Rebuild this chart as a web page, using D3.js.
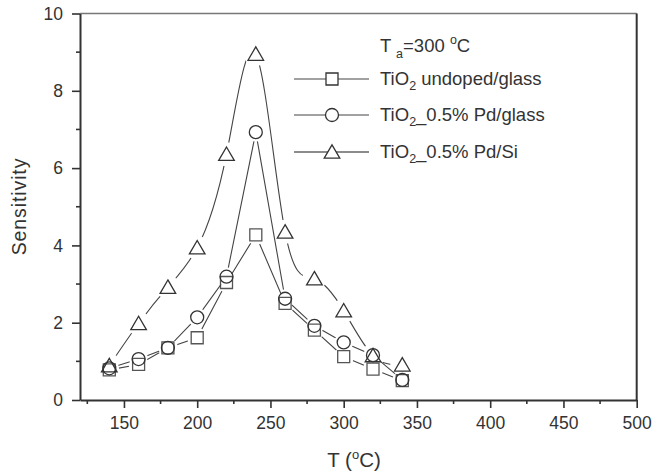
<!DOCTYPE html>
<html>
<head>
<meta charset="utf-8">
<script src="https://cdn.jsdelivr.net/npm/d3@7"></script>
<style>
  body { margin: 0; background: #fff; }
  svg { font-family: "Liberation Sans", Arial, sans-serif; }
</style>
</head>
<body>
<div class="canvas"></div>
<script>
// data
const temps = [140, 160, 180, 200, 220, 240, 260, 280, 300, 320, 340]
const undopedGlass = [0.78, 0.92, 1.35, 1.61, 3.04, 4.27, 2.50, 1.81, 1.12, 0.80, 0.50]
const pdGlass = [0.82, 1.06, 1.35, 2.14, 3.19, 6.93, 2.62, 1.92, 1.49, 1.16, 0.52]
const pdSi = [0.89, 1.98, 2.92, 3.94, 6.36, 8.95, 4.35, 3.14, 2.31, 1.15, 0.91]

const xMajor = [150, 200, 250, 300, 350, 400, 450, 500]
const xMinor = [125, 175, 225, 275, 325, 375, 425, 475]
const yMajor = [0, 2, 4, 6, 8, 10]
const yMinor = [1, 3, 5, 7, 9]

const dims = { width: 666, height: 475 }
const plot = { left: 80, right: 636.7, top: 13.5, bottom: 400 }

const svg = d3.select('.canvas')
              .append('svg')
              .attr('width', dims.width)
              .attr('height', dims.height)

const x = d3.scaleLinear().domain([120, 500]).range([plot.left, plot.right])
const y = d3.scaleLinear().domain([0, 10]).range([plot.bottom, plot.top])

const ink = '#333'

// frame: top and right
svg.append('line')
   .attr('x1', plot.left).attr('x2', plot.right)
   .attr('y1', plot.top).attr('y2', plot.top)
   .attr('stroke', '#777').attr('stroke-width', 1.5)
svg.append('line')
   .attr('x1', plot.right).attr('x2', plot.right)
   .attr('y1', plot.top).attr('y2', plot.bottom)
   .attr('stroke', ink).attr('stroke-width', 2)

// axes
const xAxis = d3.axisBottom(x).tickValues(xMajor).tickSize(8).tickSizeOuter(0).tickPadding(9)
const yAxis = d3.axisLeft(y).tickValues(yMajor).tickSize(8).tickSizeOuter(0).tickPadding(9)

const gx = svg.append('g')
              .attr('transform', `translate(0, ${plot.bottom})`)
              .call(xAxis)
const gy = svg.append('g')
              .attr('transform', `translate(${plot.left}, 0)`)
              .call(yAxis)

// minor ticks
gx.selectAll('.minor').data(xMinor).enter()
  .append('line').attr('class', 'minor')
  .attr('x1', d => x(d)).attr('x2', d => x(d))
  .attr('y1', 0).attr('y2', 4)
gy.selectAll('.minor').data(yMinor).enter()
  .append('line').attr('class', 'minor')
  .attr('y1', d => y(d)).attr('y2', d => y(d))
  .attr('x1', 0).attr('x2', -4)

;[gx, gy].forEach(g => {
  g.select('.domain').attr('stroke', ink).attr('stroke-width', 2)
  g.selectAll('line').attr('stroke', ink).attr('stroke-width', 1.6)
  g.selectAll('text').attr('fill', ink).attr('font-size', 17.5)
     .attr('font-family', '"Liberation Sans", Arial, sans-serif')
})

// axis titles
svg.append('text')
   .attr('transform', 'translate(26, 206.5) rotate(-90)')
   .attr('text-anchor', 'middle')
   .attr('font-size', 19.5)
   .attr('letter-spacing', 0.9)
   .attr('fill', ink)
   .text('Sensitivity')

const xt = svg.append('text')
              .attr('x', 354).attr('y', 466.5)
              .attr('text-anchor', 'middle')
              .attr('font-size', 20.5)
              .attr('fill', ink)
xt.append('tspan').text('T (')
xt.append('tspan').attr('font-size', 13).attr('dy', -8).text('o')
xt.append('tspan').attr('dy', 8).text('C)')

// marker shapes
const markerPath = (type) => {
  if (type === 'undoped') return 'M-6,-6H6V6H-6Z'
  if (type === 'pdglass') return d3.symbol(d3.symbolCircle, Math.PI * 6.5 * 6.5)()
  return 'M0,-7.2L7.8,6.2L-7.8,6.2Z'
}

const gapR = { undoped: 10, pdglass: 9.5, pdsi: 12 }
const curves = { undoped: d3.curveLinear, pdglass: d3.curveLinear, pdsi: d3.curveNatural }
const allSeries = [
  { key: 'undoped', values: undopedGlass },
  { key: 'pdglass', values: pdGlass },
  { key: 'pdsi', values: pdSi }
]

const defs = svg.append('defs')

allSeries.forEach(s => {
  const pts = temps.map((t, i) => ({ t, v: s.values[i] }))

  // mask so each line stops short of its own markers
  const mask = defs.append('mask').attr('id', 'gap-' + s.key)
                   .attr('maskUnits', 'userSpaceOnUse')
                   .attr('x', 0).attr('y', 0).attr('width', dims.width).attr('height', dims.height)
  mask.append('rect').attr('width', dims.width).attr('height', dims.height).attr('fill', '#fff')
  mask.selectAll('circle').data(pts).enter()
      .append('circle')
      .attr('cx', d => x(d.t)).attr('cy', d => y(d.v))
      .attr('r', gapR[s.key]).attr('fill', '#000')

  const line = d3.line().x(d => x(d.t)).y(d => y(d.v)).curve(curves[s.key])

  svg.append('path')
     .datum(pts)
     .attr('d', line)
     .attr('fill', 'none')
     .attr('stroke', '#444')
     .attr('stroke-width', 1.1)
     .attr('mask', `url(#gap-${s.key})`)

  svg.selectAll('.m-' + s.key).data(pts).enter()
     .append('path')
     .attr('class', 'm-' + s.key)
     .attr('transform', d => `translate(${x(d.t)}, ${y(d.v)})`)
     .attr('d', markerPath(s.key))
     .attr('fill', 'none')
     .attr('stroke', s.key === 'undoped' ? '#555' : '#333')
     .attr('stroke-width', 1.3)
})

// legend
const legend = svg.append('g')
const ta = legend.append('text').attr('x', 380).attr('y', 52).attr('font-size', 18.5).attr('fill', ink)
ta.append('tspan').text('T ')
ta.append('tspan').attr('font-size', 12.5).attr('dy', 6).text('a')
ta.append('tspan').attr('dy', -6).text('=300 ')
ta.append('tspan').attr('font-size', 12.5).attr('dy', -8).text('o')
ta.append('tspan').attr('dy', 8).text('C')

const legendRows = [
  { key: 'undoped', y: 79, label: ' undoped/glass' },
  { key: 'pdglass', y: 115, label: '_0.5% Pd/glass' },
  { key: 'pdsi', y: 152, label: '_0.5% Pd/Si' }
]

legendRows.forEach(r => {
  legend.append('line')
        .attr('x1', 294).attr('x2', 369)
        .attr('y1', r.y).attr('y2', r.y)
        .attr('stroke', r.key === 'pdsi' ? '#666' : '#444')
        .attr('stroke-width', r.key === 'pdsi' ? 1.4 : 1.1)
  legend.append('path')
        .attr('transform', `translate(332, ${r.y})`)
        .attr('d', markerPath(r.key))
        .attr('fill', '#fff')
        .attr('stroke', '#333')
        .attr('stroke-width', 1.3)
  const t = legend.append('text').attr('x', 380).attr('y', r.y + 5.5)
                  .attr('font-size', 18.5).attr('fill', ink)
  t.append('tspan').text('TiO')
  t.append('tspan').attr('font-size', 12.5).attr('dy', 5).text('2')
  t.append('tspan').attr('dy', -5).text(r.label)
})
</script>
</body>
</html>
